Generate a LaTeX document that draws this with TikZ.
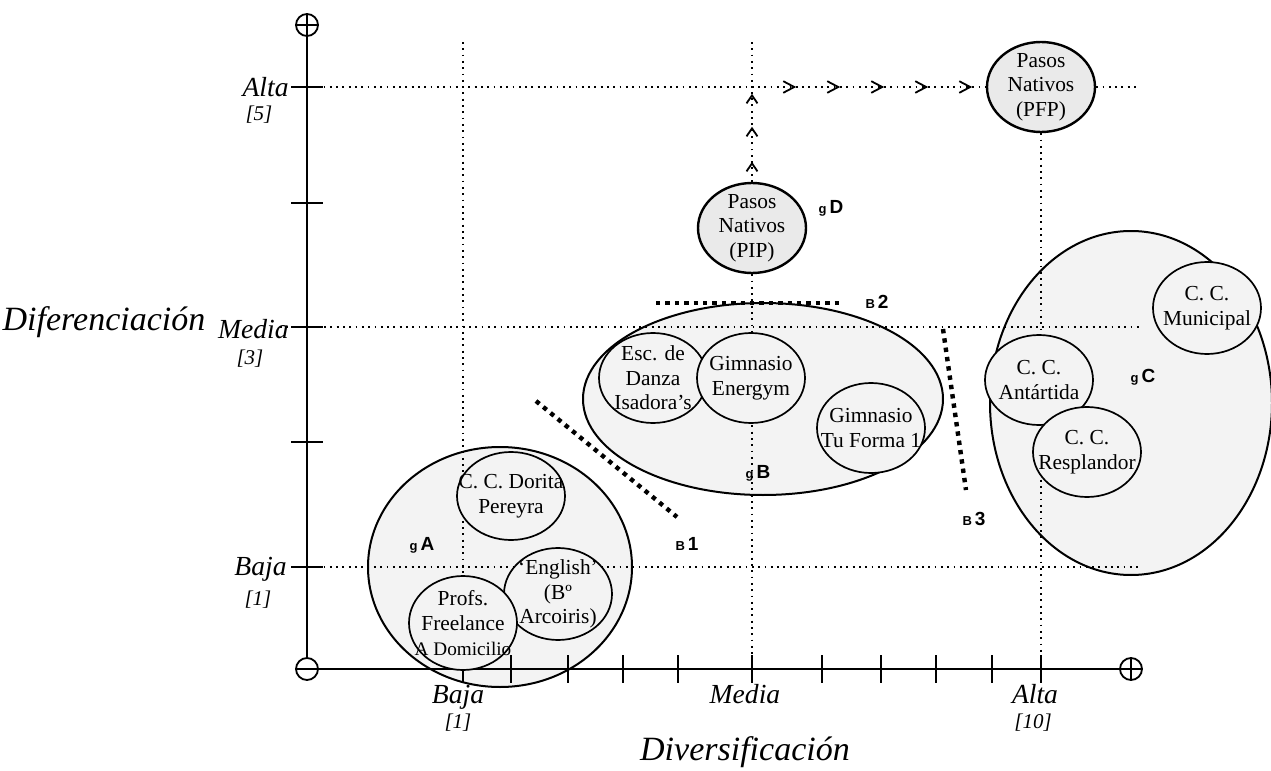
\documentclass[tikz,border=0pt]{standalone}
\usepackage{fontspec}
\setmainfont{Liberation Serif}
\newfontfamily\tagfont{Liberation Sans}
\usepackage{tikz}
\usetikzlibrary{arrows.meta, shapes.geometric, decorations.markings}

\definecolor{grpfill}{HTML}{F3F3F3}
\definecolor{pasfill}{HTML}{EAEAEA}

\newcommand{\grptag}[1]{{\fontsize{6.5}{7}\selectfont g}\hspace{1.5pt}{\fontsize{9.5}{10}\selectfont #1}}
\newcommand{\bndtag}[1]{{\fontsize{6.5}{7}\selectfont B}\hspace{1.5pt}{\fontsize{9.5}{10}\selectfont #1}}

\tikzset{
	group/.style={ellipse, draw, line width=1pt, fill=grpfill, inner sep=0pt},
	place/.style={ellipse, draw, line width=0.85pt, fill=grpfill, inner sep=0pt, minimum width=54pt, minimum height=45pt},
	pasos/.style={place, line width=1.2pt, fill=pasfill},
	inside/.style={align=center, inner sep=0pt, font=\fontsize{10.7}{12.3}\selectfont},
	grid/.style={line width=0.9pt, dash pattern=on 0.9pt off 2.25pt},
	border/.style={line width=2.2pt, dash pattern=on 2.2pt off 2.5pt},
	axis/.style={line width=1pt},
	sign/.style={circle, draw, line width=0.9pt, minimum size=11pt, inner sep=0pt},
	lvl/.style={inner sep=0pt, font=\fontsize{13.8}{15}\selectfont\itshape},
	idx/.style={inner sep=0pt, font=\fontsize{10.5}{12}\selectfont\itshape},
	axtitle/.style={inner sep=0pt, font=\fontsize{17}{19}\selectfont\itshape},
	tag/.style={inner sep=0pt, anchor=base, font=\tagfont\bfseries},
	flow/.style={postaction={decorate}, decoration={markings,
		mark=at position 10pt with {\arrow{Straight Barb[length=4pt,width=5.5pt,line width=0.9pt]}},
		mark=at position 27.5pt with {\arrow{Straight Barb[length=4pt,width=5.5pt,line width=0.9pt]}},
		mark=at position 44pt with {\arrow{Straight Barb[length=4pt,width=5.5pt,line width=0.9pt]}},
		mark=at position 69.5pt with {\arrow{Straight Barb[length=5.5pt,width=5.8pt,line width=0.9pt]}},
		mark=at position 91.5pt with {\arrow{Straight Barb[length=5.5pt,width=5.8pt,line width=0.9pt]}},
		mark=at position 113.5pt with {\arrow{Straight Barb[length=5.5pt,width=5.8pt,line width=0.9pt]}},
		mark=at position 135.5pt with {\arrow{Straight Barb[length=5.5pt,width=5.8pt,line width=0.9pt]}},
		mark=at position 157.5pt with {\arrow{Straight Barb[length=5.5pt,width=5.8pt,line width=0.9pt]}}}}
}

\begin{document}
\begin{tikzpicture}
	[x=0.5pt, y=-0.5pt]
	\useasboundingbox (0,0) rectangle (1271,771);

	% groups
	\node[group, minimum width=132pt, minimum height=120pt] (grpA) at (500,567) {};
	\node[group, minimum width=180pt, minimum height=96pt] (grpB) at (763,399) {};
	\node[group, minimum width=141pt, minimum height=172pt] (grpC) at (1131,403) {};
	\node[pasos] (pip) at (752,228) {};
	\node[pasos] (pfp) at (1041,87) {};

	% grid
	\draw[grid] (292,87) -- (752,87);
	\draw[grid] (pfp.east) -- (1140,87);
	\draw[grid] (280,327) -- (1140,327);
	\draw[grid] (292,567) -- (1140,567);
	\draw[grid] (463,42) -- (463,668);
	\draw[grid] (752,42) -- (752,87);
	\draw[grid] (pip.south) -- (752,668);
	\draw[grid] (pfp.south) -- (1041,668);

	% axes
	\node[sign] (top) at (307,25) {};
	\node[sign] (orig) at (307,669) {};
	\node[sign] (right) at (1131,669) {};
	\draw[axis] (orig.north) -- (top.north);
	\draw[axis] (top.west) -- (top.east);
	\draw[axis] (orig.west) -- (right.east);
	\draw[axis] (right.north) -- (right.south);
	\foreach \y in {87,203,327,442,567}
	\draw[axis] (291,\y) -- (323,\y);
	\foreach \x in {463,511,568,623,678,752,822,881,936,992,1041}
	\draw[axis] (\x,655) -- (\x,683);

	% places
	\node[place] (isadora) at (653,378) {};
	\node[place] (energym) at (751,378) {};
	\node[place] (tuforma) at (871,428) {};
	\node[place, minimum height=44pt] (dorita) at (511,496) {};
	\node[place, minimum height=46pt] (english) at (558,594) {};
	\node[place, minimum height=47pt] (profs) at (463,623) {};
	\node[place, minimum height=46pt] (municipal) at (1207,308) {};
	\node[place] (antartida) at (1039,380) {};
	\node[place] (resplandor) at (1087,452) {};

	\node[inside] (isadoraT) at (isadora) {Esc. de\\Danza\\Isadora’s};
	\node[inside] (energymT) at (energym) {Gimnasio\\Energym};
	\node[inside] (tuformaT) at (tuforma) {Gimnasio\\Tu Forma 1};
	\node[inside] (doritaT) at (dorita) {C. C. Dorita\\Pereyra};
	\node[inside] (englishT) at (english) {‘English’\\(Bº\\Arcoiris)};
	\node[inside] (profsT) at (profs) {Profs.\\Freelance\\{\fontsize{9.6}{11}\selectfont A Domicilio}};
	\node[inside] (municipalT) at (municipal) {C. C.\\Municipal};
	\node[inside] (antartidaT) at (antartida) {C. C.\\Antártida};
	\node[inside] (resplandorT) at (resplandor) {C. C.\\Resplandor};
	\node[inside] (pipT) at (pip) {Pasos\\Nativos\\(PIP)};
	\node[inside] (pfpT) at (pfp) {Pasos\\Nativos\\(PFP)};

	\draw[grid, flow] (pip.north) |- (pfp.west);

	% borders
	\coordinate (b1s) at (536,401);
	\coordinate (b1e) at (677,517);
	\coordinate (b2s) at (656,303);
	\coordinate (b2e) at (842,303);
	\coordinate (b3s) at (943,329);
	\coordinate (b3e) at (966,490);
	\foreach \from/\to in {b1s/b1e,b2s/b2e,b3s/b3e}
	\draw[border] (\from) -- (\to);

	\node[tag] (tagA) at (422,550) {\grptag{A}};
	\node[tag] (tagB) at (758,478) {\grptag{B}};
	\node[tag] (tagC) at (1143,382) {\grptag{C}};
	\node[tag] (tagD) at (831,213) {\grptag{D}};
	\node[tag] (tag1) at (687,550) {\bndtag{1}};
	\node[tag] (tag2) at (877,308) {\bndtag{2}};
	\node[tag] (tag3) at (974,525) {\bndtag{3}};

	% axis labels
	\node[lvl, anchor=base east] (yAlta) at (289,96) {Alta};
	\node[idx] (y5) at (259,115) {[5]};
	\node[lvl, anchor=base east] (yMedia) at (289,338) {Media};
	\node[idx] (y3) at (250,359) {[3]};
	\node[lvl, anchor=base east] (yBaja) at (287,575) {Baja};
	\node[idx] (y1) at (258,600) {[1]};
	\node[axtitle] (ytitle) at (104,322) {Diferenciación};
	\node[lvl, anchor=base] (xBaja) at (458,703) {Baja};
	\node[idx] (x1) at (458,723) {[1]};
	\node[lvl, anchor=base] (xMedia) at (745,703) {Media};
	\node[lvl, anchor=base] (xAlta) at (1035,703) {Alta};
	\node[idx] (x10) at (1033,723) {[10]};
	\node[axtitle] (xtitle) at (745,752) {Diversificación};
\end{tikzpicture}
\end{document}
